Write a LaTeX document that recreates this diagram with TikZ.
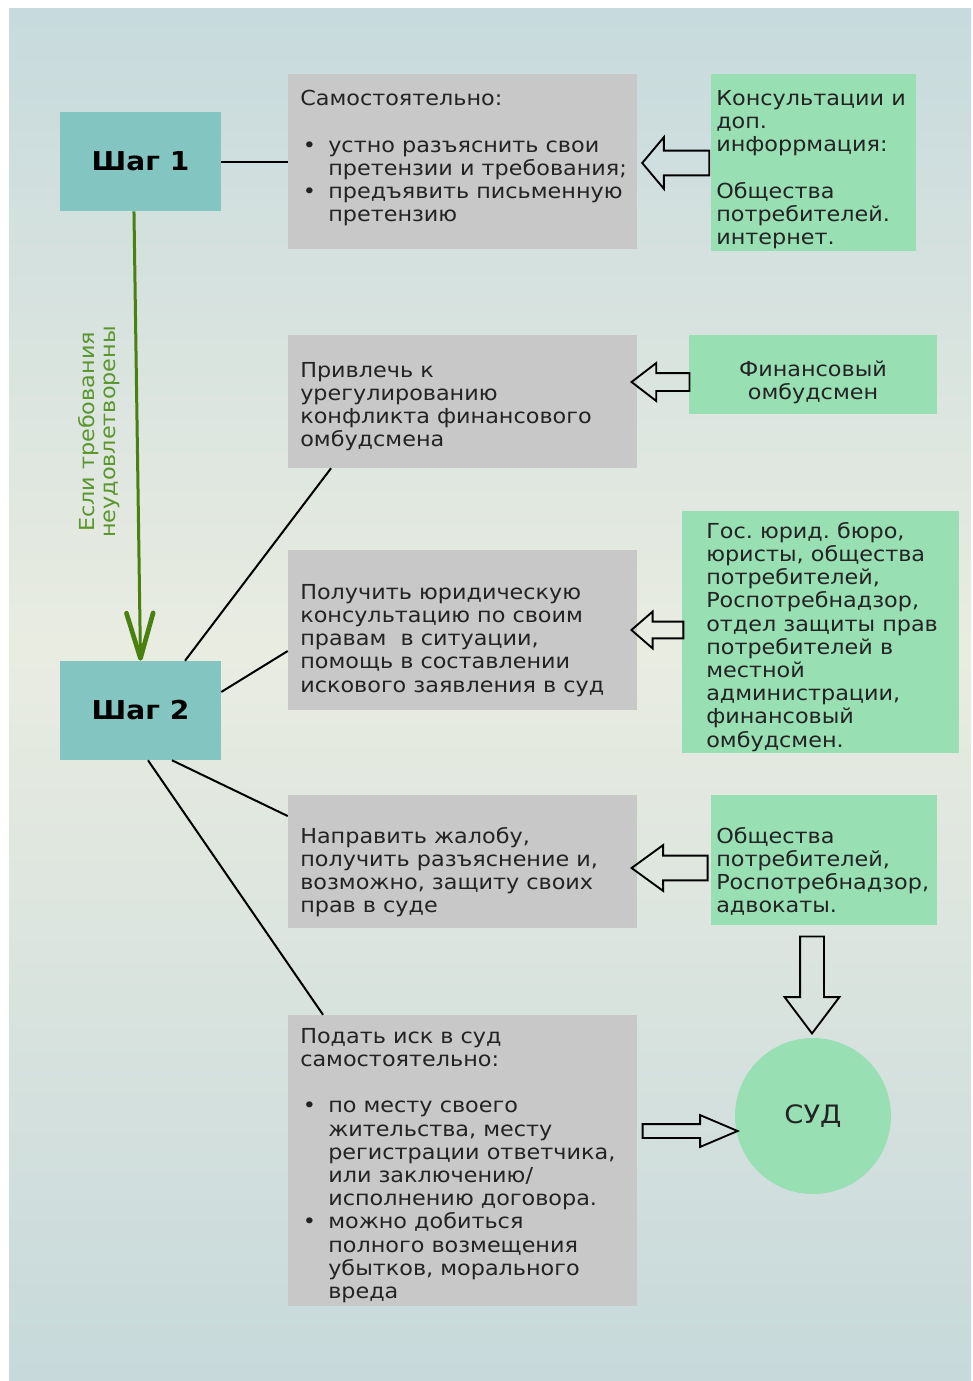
\documentclass[tikz,border=0pt]{standalone}
\usepackage{fontspec}
\setmainfont{DejaVu Sans}[FakeStretch=1.08]
\usepackage{tikz}
\usetikzlibrary{arrows.meta}
\usetikzlibrary{shapes.arrows}

\definecolor{bgtop}{RGB}{199,218,221}
\definecolor{bgmid}{RGB}{233,236,225}
\definecolor{bgbot}{RGB}{199,217,219}
\definecolor{stepcol}{RGB}{131,197,192}
\definecolor{graycol}{RGB}{200,200,200}
\definecolor{greencol}{RGB}{153,223,180}
\definecolor{arrowgreen}{RGB}{74,128,16}
\definecolor{textgreen}{RGB}{90,150,45}
\definecolor{textcol}{RGB}{35,35,35}

\newcommand{\bul}{\makebox[21pt][l]{\hspace{2pt}•}}
\newcommand{\ind}{\hspace*{21pt}}
\frenchspacing

\begin{document}
\begin{tikzpicture}[x=0.75pt, y=-0.75pt,
        step_style/.style={fill=stepcol, inner sep=0pt, minimum width=120.75pt, minimum height=74.25pt, font=\fontsize{19.5}{22}\selectfont\bfseries},
        gray_style/.style={fill=graycol, inner sep=0pt, minimum width=261.75pt},
        green_style/.style={fill=greencol, inner sep=0pt},
        text_style/.style={anchor=north west, inner sep=0pt, align=left, text=textcol, font=\fontsize{15.5}{17.4}\selectfont},
        link_style/.style={draw=black, line width=1.5pt},
        block_style/.style={single arrow, draw=black, line width=1.4pt, line join=miter, anchor=tip}]

        % background
        \useasboundingbox (0,0) rectangle (973,1381);
        \shade[top color=bgtop, bottom color=bgmid] (9,8) rectangle (971,650);
        \shade[top color=bgmid, bottom color=bgbot] (9,649) rectangle (971,1381);

        % steps
        \node [step_style] (step1) at (140.5,161.5) {Шаг 1};
        \node [step_style] (step2) at (140.5,710.5) {Шаг 2};

        % gray boxes
        \node [gray_style, minimum height=131.25pt] (boxA) at (462.5,161.5) {};
        \node [gray_style, minimum height=99.75pt] (boxB) at (462.5,401.5) {};
        \node [gray_style, minimum height=120pt] (boxC) at (462.5,630) {};
        \node [gray_style, minimum height=99.75pt] (boxD) at (462.5,861.5) {};
        \node [gray_style, minimum height=218.25pt] (boxE) at (462.5,1160.5) {};

        \node [text_style] (tA) at (300,90) {Самостоятельно:\\[17.4pt]
            \bul устно разъяснить свои\\
            \ind претензии и требования;\\
            \bul предъявить письменную\\
            \ind претензию};
        \node [text_style] (tB) at (300,362) {Привлечь к\\
            урегулированию\\
            конфликта финансового\\
            омбудсмена};
        \node [text_style] (tC) at (300,584) {Получить юридическую\\
            консультацию по своим\\
            правам \ в ситуации,\\
            помощь в составлении\\
            искового заявления в суд};
        \node [text_style] (tD) at (300,827) {Направить жалобу,\\
            получить разъяснение и,\\
            возможно, защиту своих\\
            прав в суде};
        \node [text_style] (tE) at (300,1028) {Подать иск в суд\\
            самостоятельно:\\[17.4pt]
            \bul по месту своего\\
            \ind жительства, месту\\
            \ind регистрации ответчика,\\
            \ind или заключению/\\
            \ind исполнению договора.\\
            \bul можно добиться\\
            \ind полного возмещения\\
            \ind убытков, морального\\
            \ind вреда};

        % green boxes
        \node [green_style, minimum width=153.75pt, minimum height=132.75pt] (g1) at (813.5,162.5) {};
        \node [green_style, minimum width=186pt, minimum height=59.25pt] (g2) at (813,374.5) {};
        \node [green_style, minimum width=207.75pt, minimum height=181.5pt] (g3) at (820.5,632) {};
        \node [green_style, minimum width=169.5pt, minimum height=97.5pt] (g4) at (824,860) {};
        \node [green_style, circle, minimum size=117pt, font=\fontsize{19}{22}\selectfont, text=textcol] (court) at (813,1116) {СУД};

        \node [text_style] (tg1) at (716,90) {Консультации и\\
            доп.\\
            инфоррмация:\\[17.4pt]
            Общества\\
            потребителей.\\
            интернет.};
        \node [text_style, anchor=center, align=center] (tg2) at (813,382) {Финансовый\\
            омбудсмен};
        \node [text_style] (tg3) at (706,522) {Гос. юрид. бюро,\\
            юристы, общества\\
            потребителей,\\
            Роспотребнадзор,\\
            отдел защиты прав\\
            потребителей в\\
            местной\\
            администрации,\\
            финансовый\\
            омбудсмен.};
        \node [text_style] (tg4) at (716,827) {Общества\\
            потребителей,\\
            Роспотребнадзор,\\
            адвокаты.};

        % block arrows
        \node [block_style, shape border rotate=180, inner xsep=0pt, minimum height=50.25pt, inner ysep=8.6pt, single arrow head extend=10.1pt, single arrow tip angle=100] (arA) at (641,163) {};
        \node [block_style, shape border rotate=180, inner xsep=0pt, minimum height=43.5pt, inner ysep=6pt, single arrow head extend=7.5pt, single arrow tip angle=75] (arB) at (630,382) {};
        \node [block_style, shape border rotate=180, inner xsep=0pt, minimum height=39pt, inner ysep=5.6pt, single arrow head extend=7.5pt, single arrow tip angle=82] (arC) at (630,630) {};
        \node [block_style, shape border rotate=180, inner xsep=0pt, minimum height=57pt, inner ysep=8.6pt, single arrow head extend=7.9pt, single arrow tip angle=72] (arD) at (630,868) {};
        \node [block_style, shape border rotate=270, inner ysep=0pt, minimum height=72.75pt, inner xsep=8.25pt, single arrow head extend=11.6pt, single arrow tip angle=74] (arCourt) at (812,1035) {};
        \node [block_style, inner xsep=0pt, minimum height=71.25pt, inner ysep=4.5pt, single arrow head extend=6.75pt, single arrow tip angle=46] (arE) at (740,1131) {};

        % connectors
        \draw [link_style] (step1.east) -- (boxA.west);
        \draw [link_style] ([xshift=33.4pt]step2.north) -- ([xshift=-98.6pt]boxB.south);
        \draw [link_style] ([yshift=13.9pt]step2.east) -- ([yshift=-15.75pt]boxC.west);
        \draw [link_style] ([xshift=23.6pt]step2.south) -- ([yshift=34.1pt]boxD.west);
        \draw [link_style] ([xshift=5.6pt]step2.south) -- ([xshift=-104.6pt]boxE.north);

        \draw [draw=arrowgreen, line width=2.25pt, -{Straight Barb[length=34pt, width=20pt, line width=3.5pt, round]}] ([xshift=-4.9pt]step1.south) -- (step2.north);
        \node [rotate=90, align=center, text=textgreen, font=\fontsize{15.5}{15.5}\selectfont] (cond) at (99,432) {Если требования\\неудовлетворены};

\end{tikzpicture}
\end{document}
